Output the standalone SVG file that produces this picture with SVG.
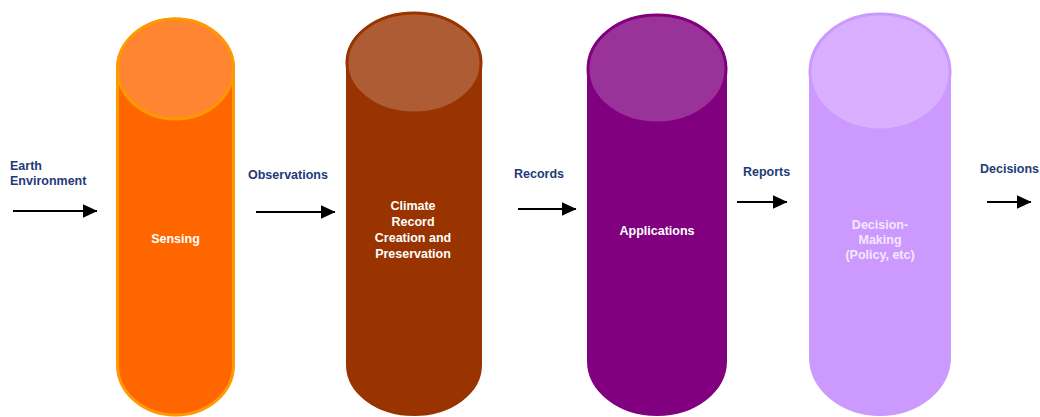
<svg xmlns="http://www.w3.org/2000/svg" width="1040" height="417" viewBox="0 0 1040 417">
<style>
.lbl{font-family:"Liberation Sans",Arial,sans-serif;font-weight:bold;font-size:12.5px;fill:#1F3A78}
.in{font-family:"Liberation Sans",Arial,sans-serif;font-weight:bold;font-size:12.5px;fill:#FFFFFF;text-anchor:middle}
.arrow{stroke:#000;stroke-width:1.8;fill:none;marker-end:url(#ah)}
</style>
<defs>
<marker id="ah" markerUnits="userSpaceOnUse" markerWidth="15" markerHeight="14" refX="14.5" refY="7" orient="auto">
<path d="M0,0 L15,7 L0,14 Z" fill="#000"/>
</marker>
</defs>
<rect width="1040" height="417" fill="#FFFFFF"/>

<g id="sensing">
<path d="M117.5,69 A58,50 0 0 1 233.5,69 L233.5,365 A58,50 0 0 1 117.5,365 Z" fill="#FF6600" stroke="#FF9900" stroke-width="3"/>
<ellipse cx="175.5" cy="69" rx="58" ry="50" fill="#FF8533" stroke="#FF9900" stroke-width="3"/>
<text class="in" x="175.5" y="243">Sensing</text>
</g>

<g id="climate">
<path d="M347,63 A67,50 0 0 1 481,63 L481,365 A67,50 0 0 1 347,365 Z" fill="#993300" stroke="#993300" stroke-width="2"/>
<ellipse cx="414" cy="63" rx="67" ry="50" fill="#AD5C33" stroke="#993300" stroke-width="3"/>
<text class="in" x="413" y="210">Climate</text>
<text class="in" x="413" y="226">Record</text>
<text class="in" x="413" y="242">Creation and</text>
<text class="in" x="413" y="258">Preservation</text>
</g>

<g id="applications">
<path d="M588,69 A69,54 0 0 1 726,69 L726,361 A69,54 0 0 1 588,361 Z" fill="#800080" stroke="#800080" stroke-width="2"/>
<ellipse cx="657" cy="69" rx="69" ry="54" fill="#993399" stroke="#800080" stroke-width="3"/>
<text class="in" x="657" y="235">Applications</text>
</g>

<g id="decision">
<path d="M810,72 A70,58 0 0 1 950,72 L950,357 A70,58 0 0 1 810,357 Z" fill="#CC99FF" stroke="#CC99FF" stroke-width="2"/>
<ellipse cx="880" cy="72" rx="70" ry="58" fill="#D8B0FF" stroke="#CC99FF" stroke-width="3"/>
<text class="in" x="880" y="229" style="fill:#F3E8FF">Decision-</text>
<text class="in" x="880" y="244" style="fill:#F3E8FF">Making</text>
<text class="in" x="880" y="259" style="fill:#F3E8FF">(Policy, etc)</text>
</g>

<g id="labels">
<text class="lbl" x="10" y="170">Earth</text>
<text class="lbl" x="10" y="185">Environment</text>
<text class="lbl" x="248" y="179">Observations</text>
<text class="lbl" x="514" y="178">Records</text>
<text class="lbl" x="743" y="176">Reports</text>
<text class="lbl" x="980" y="173">Decisions</text>
</g>

<g id="connectors">
<line class="arrow" x1="13" y1="211" x2="97" y2="211"/>
<line class="arrow" x1="256" y1="212" x2="335" y2="212"/>
<line class="arrow" x1="518" y1="209" x2="576" y2="209"/>
<line class="arrow" x1="737" y1="202" x2="787" y2="202"/>
<line class="arrow" x1="987" y1="202" x2="1031" y2="202"/>
</g>
</svg>
